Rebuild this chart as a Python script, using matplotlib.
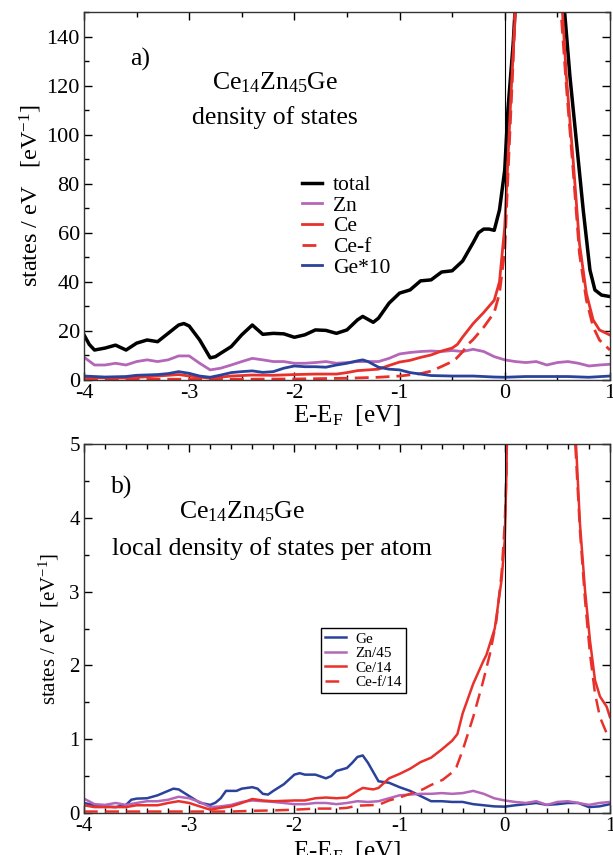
import matplotlib
matplotlib.use('Agg')
import matplotlib.pyplot as plt
from matplotlib.ticker import MultipleLocator

plt.rcParams['font.family'] = 'Liberation Serif'
plt.rcParams['mathtext.fontset'] = 'custom'
plt.rcParams['mathtext.rm'] = 'Liberation Serif'
plt.rcParams['mathtext.it'] = 'Liberation Serif:italic'
plt.rcParams['axes.unicode_minus'] = False

# colours
c_zn = '#b467b8'
c_ce = '#e8312b'
c_ge = '#2a429b'

# ---- panel a) total / partial DOS ----
e_tot = [-4.0, -3.95, -3.9, -3.8, -3.7, -3.6, -3.5, -3.4, -3.3, -3.2, -3.1, -3.05, -3.0, -2.9, -2.8, -2.75,
         -2.7, -2.6, -2.5, -2.4, -2.3, -2.2, -2.1, -2.0, -1.9, -1.8, -1.7, -1.6, -1.5, -1.4, -1.35, -1.25,
         -1.2, -1.1, -1.0, -0.9, -0.8, -0.7, -0.6, -0.5, -0.4, -0.3, -0.25, -0.2, -0.15, -0.1, -0.05,
         0.0, 0.03, 0.08, 0.1, 0.2, 0.35, 0.45, 0.55, 0.62, 0.683, 0.746, 0.81, 0.857, 0.92, 1.0]
dos_tot = [18.4, 14.5, 12.2, 13.0, 14.2, 12.2, 15.0, 16.3, 15.6, 19.0, 22.4, 23.0, 22.0, 16.3, 9.0, 9.5,
           10.9, 13.6, 18.4, 22.4, 18.6, 19.0, 18.8, 17.4, 18.4, 20.4, 20.2, 19.0, 20.4, 24.5, 25.9, 23.5,
           25.2, 31.3, 35.4, 36.7, 40.4, 40.8, 44.0, 44.5, 48.5, 56.0, 60.0, 61.5, 61.5, 61.0, 69.3,
           85.6, 110, 137, 152, 300, 380, 300, 160, 123.6, 96.5, 69.3, 44.8, 36.7, 34.6, 34.0]

e_zn = [-4.0, -3.9, -3.8, -3.7, -3.6, -3.5, -3.4, -3.3, -3.2, -3.1, -3.0, -2.9, -2.8, -2.7, -2.6, -2.5,
        -2.4, -2.3, -2.2, -2.1, -2.0, -1.9, -1.8, -1.7, -1.6, -1.5, -1.4, -1.3, -1.2, -1.1, -1.0, -0.9,
        -0.8, -0.7, -0.6, -0.5, -0.4, -0.3, -0.2, -0.1, 0.0, 0.1, 0.2, 0.3, 0.4, 0.5, 0.6, 0.7, 0.8,
        0.9, 1.0]
dos_zn = [9.3, 6.1, 6.1, 6.8, 6.1, 7.5, 8.2, 7.5, 8.2, 9.8, 9.8, 6.8, 4.1, 4.8, 6.1, 7.5,
          8.8, 8.2, 7.5, 7.5, 6.8, 6.8, 7.1, 7.5, 6.8, 7.1, 7.5, 7.5, 7.5, 8.8, 10.6, 11.2,
          11.6, 11.8, 11.6, 12.0, 11.6, 12.5, 11.6, 9.5, 8.2, 7.5, 7.1, 7.5, 6.1, 7.1, 7.5, 6.8, 5.7,
          6.1, 6.4]

e_ce = [-4.0, -3.8, -3.6, -3.4, -3.3, -3.1, -3.0, -2.8, -2.6, -2.4, -2.2, -2.0, -1.8, -1.6, -1.5, -1.4,
        -1.2, -1.1, -1.0, -0.9, -0.8, -0.7, -0.6, -0.5, -0.45, -0.4, -0.3, -0.2, -0.1, -0.05, 0.0,
        0.03, 0.06, 0.095, 0.12, 0.2, 0.35, 0.45, 0.52, 0.586, 0.65, 0.71, 0.776, 0.84, 0.9, 1.0]
dos_ce = [1.0, 0.9, 0.8, 1.3, 1.6, 2.2, 1.6, 0.7, 1.6, 2.0, 1.9, 2.2, 2.4, 2.4, 3.0, 3.8,
          4.4, 5.9, 7.3, 8.0, 9.2, 10.2, 11.8, 13.0, 14.5, 17.5, 23.0, 27.5, 32.5, 40.0, 62.5,
          89.7, 117, 145, 170, 300, 350, 300, 170, 123.6, 89.7, 55.7, 35.3, 24.5, 20.4, 18.3]

e_cef = [-4.0, -3.0, -2.5, -2.0, -1.5, -1.2, -1.0, -0.8, -0.7, -0.6, -0.5, -0.46, -0.4, -0.35, -0.3,
         -0.2, -0.1, -0.05, 0.0, 0.03, 0.08, 0.1, 0.2, 0.35, 0.45, 0.51, 0.586, 0.65, 0.71, 0.776,
         0.84, 0.9, 1.0]
dos_cef = [0.3, 0.3, 0.3, 0.4, 0.7, 1.1, 1.6, 2.6, 3.6, 5.5, 7.5, 8.8, 11.5, 14.5, 16.5,
           21.5, 27.5, 35.3, 53, 83, 130, 155, 290, 340, 290, 165, 119.6, 85.6, 51.6, 32.6,
           21.7, 16.3, 12.2]

e_ge = [-4.0, -3.8, -3.6, -3.5, -3.3, -3.2, -3.1, -3.0, -2.9, -2.8, -2.7, -2.6, -2.5, -2.4, -2.3, -2.2,
        -2.1, -2.0, -1.9, -1.8, -1.7, -1.6, -1.5, -1.4, -1.35, -1.3, -1.2, -1.1, -1.0, -0.9, -0.8,
        -0.7, -0.5, -0.3, -0.1, 0.0, 0.2, 0.4, 0.6, 0.8, 1.0]
dos_ge10 = [1.6, 1.2, 1.4, 1.9, 2.2, 2.6, 3.4, 2.7, 1.6, 1.1, 2.0, 3.0, 3.4, 3.7, 3.1, 3.4,
            4.8, 5.7, 5.4, 5.4, 5.2, 6.1, 6.8, 7.8, 8.2, 7.5, 5.2, 4.4, 4.1, 3.0, 2.4,
            1.8, 1.6, 1.6, 1.2, 1.1, 1.4, 1.4, 1.4, 1.1, 1.6]

# ---- panel b) local DOS per atom ----
e_lge = [-4.0, -3.9, -3.8, -3.7, -3.6, -3.55, -3.5, -3.4, -3.3, -3.2, -3.15, -3.1, -3.0, -2.9, -2.8,
         -2.75, -2.7, -2.65, -2.6, -2.55, -2.5, -2.4, -2.35, -2.3, -2.25, -2.2, -2.1, -2.0, -1.95, -1.9,
         -1.8, -1.7, -1.65, -1.6, -1.5, -1.45, -1.4, -1.35, -1.3, -1.2, -1.1, -1.0, -0.9, -0.8, -0.7,
         -0.6, -0.5, -0.4, -0.3, -0.2, -0.1, 0.0, 0.1, 0.2, 0.3, 0.4, 0.5, 0.6, 0.7, 0.8, 0.9, 1.0]
ldos_ge = [0.136, 0.105, 0.09, 0.08, 0.11, 0.18, 0.195, 0.2, 0.24, 0.3, 0.33, 0.32, 0.23, 0.14, 0.11,
           0.14, 0.2, 0.3, 0.3, 0.3, 0.33, 0.35, 0.33, 0.26, 0.25, 0.3, 0.39, 0.52, 0.54, 0.52,
           0.52, 0.47, 0.5, 0.57, 0.61, 0.68, 0.76, 0.78, 0.68, 0.43, 0.41, 0.35, 0.30, 0.23, 0.16,
           0.16, 0.15, 0.15, 0.12, 0.105, 0.09, 0.086, 0.105, 0.12, 0.136, 0.11, 0.12, 0.136, 0.136,
           0.08, 0.09, 0.12]

e_lzn = [-4.0, -3.9, -3.8, -3.7, -3.6, -3.5, -3.4, -3.3, -3.2, -3.1, -3.0, -2.9, -2.8, -2.7, -2.6, -2.5,
         -2.4, -2.3, -2.2, -2.1, -2.0, -1.9, -1.8, -1.7, -1.6, -1.5, -1.4, -1.3, -1.2, -1.1, -1.0, -0.9,
         -0.8, -0.7, -0.6, -0.5, -0.4, -0.3, -0.2, -0.1, 0.0, 0.1, 0.2, 0.3, 0.4, 0.5, 0.6, 0.7, 0.8,
         0.9, 1.0]
ldos_zn = [0.195, 0.12, 0.11, 0.136, 0.11, 0.136, 0.16, 0.16, 0.18, 0.22, 0.2, 0.15, 0.08, 0.09, 0.11,
           0.15, 0.17, 0.16, 0.15, 0.136, 0.12, 0.12, 0.136, 0.136, 0.12, 0.136, 0.16, 0.15, 0.16, 0.2,
           0.24, 0.25, 0.26, 0.26, 0.27, 0.26, 0.27, 0.3, 0.26, 0.2, 0.17, 0.15, 0.136, 0.16, 0.11,
           0.15, 0.16, 0.136, 0.11, 0.136, 0.15]

e_lce = [-4.0, -3.9, -3.8, -3.6, -3.5, -3.3, -3.2, -3.1, -3.0, -2.9, -2.8, -2.7, -2.6, -2.5, -2.4, -2.3,
         -2.2, -2.0, -1.9, -1.8, -1.7, -1.6, -1.5, -1.4, -1.35, -1.25, -1.2, -1.1, -1.0, -0.9, -0.8,
         -0.7, -0.6, -0.5, -0.45, -0.4, -0.3, -0.2, -0.175, -0.095, -0.03, 0.0, 0.016, 0.05, 0.35,
         0.5, 0.66, 0.715, 0.763, 0.81, 0.858, 0.905, 0.969, 1.0]
ldos_ce = [0.105, 0.08, 0.08, 0.08, 0.105, 0.105, 0.136, 0.16, 0.136, 0.09, 0.045, 0.07, 0.09, 0.136,
           0.19, 0.17, 0.16, 0.17, 0.17, 0.2, 0.21, 0.2, 0.21, 0.3, 0.34, 0.32, 0.34, 0.47, 0.53, 0.6,
           0.69, 0.75, 0.86, 0.98, 1.07, 1.35, 1.75, 2.07, 2.14, 2.5, 3.16, 3.7, 4.6, 8.0, 15.0,
           12.0, 5.5, 3.92, 3.02, 2.34, 1.8, 1.58, 1.44, 1.3]

e_lcef = [-4.0, -3.0, -2.6, -2.4, -2.2, -2.0, -1.8, -1.6, -1.5, -1.4, -1.2, -1.1, -1.0, -0.9, -0.78,
          -0.7, -0.59, -0.5, -0.46, -0.4, -0.3, -0.21, -0.14, -0.08, -0.03, 0.0, 0.016, 0.05, 0.35,
          0.5, 0.655, 0.715, 0.763, 0.81, 0.858, 0.905, 0.969, 1.0]
ldos_cef = [0.02, 0.02, 0.02, 0.03, 0.035, 0.045, 0.06, 0.06, 0.07, 0.1, 0.11, 0.17, 0.21, 0.26, 0.32,
            0.38, 0.45, 0.55, 0.62, 0.85, 1.3, 1.76, 2.16, 2.6, 3.25, 3.92, 4.6, 8.0, 14.0,
            11.0, 5.4, 3.83, 2.89, 2.16, 1.62, 1.3, 1.08, 1.01]

fig = plt.figure(figsize=(6.13, 8.55), dpi=100)
ax1 = fig.add_axes([0.137, 0.5556, 0.858, 0.4304])
ax2 = fig.add_axes([0.137, 0.0491, 0.858, 0.4316])

ax1.plot(e_tot, dos_tot, color='black', lw=2.5, label='total')
ax1.plot(e_zn, dos_zn, color=c_zn, lw=2.0, label='Zn')
ax1.plot(e_ce, dos_ce, color=c_ce, lw=2.0, label='Ce')
ax1.plot(e_cef, dos_cef, color=c_ce, lw=2.0, dashes=(5, 2.5), label='Ce-f')
ax1.plot(e_ge, dos_ge10, color=c_ge, lw=2.0, label='Ge*10')
ax1.axvline(0, color='black', lw=0.8)

ax2.plot(e_lge, ldos_ge, color=c_ge, lw=1.8, label='Ge')
ax2.plot(e_lzn, ldos_zn, color=c_zn, lw=1.8, label='Zn/45')
ax2.plot(e_lce, ldos_ce, color=c_ce, lw=1.8, label='Ce/14')
ax2.plot(e_lcef, ldos_cef, color=c_ce, lw=1.8, dashes=(5.5, 3), label='Ce-f/14')
ax2.axvline(0, color='black', lw=0.8)

ax1.set_xlim(-4, 1)
ax1.set_ylim(0, 150)
ax1.xaxis.set_major_locator(MultipleLocator(1))
ax1.xaxis.set_minor_locator(MultipleLocator(0.5))
ax1.yaxis.set_major_locator(MultipleLocator(20))
ax1.yaxis.set_minor_locator(MultipleLocator(10))

ax2.set_xlim(-4, 1)
ax2.set_ylim(0, 5)
ax2.xaxis.set_major_locator(MultipleLocator(1))
ax2.xaxis.set_minor_locator(MultipleLocator(0.2))
ax2.yaxis.set_major_locator(MultipleLocator(1))
ax2.yaxis.set_minor_locator(MultipleLocator(0.5))

for ax, fs in ((ax1, 16), (ax2, 15)):
    ax.tick_params(which='both', direction='in', top=True, right=True, labelsize=fs, pad=3)
    ax.tick_params(which='major', length=6, width=1)
    ax.tick_params(which='minor', length=3.5, width=1)
    for s in ax.spines.values():
        s.set_linewidth(1.0)
        s.set_color('#333333')

ax1.set_xlabel('E-E$_\\mathrm{F}$  [eV]', fontsize=18, labelpad=0)
ax1.set_ylabel('states / eV   [eV$^{-1}$]', fontsize=17.5, labelpad=2)
ax2.set_xlabel('E-E$_\\mathrm{F}$  [eV]', fontsize=18, labelpad=2)
ax2.set_ylabel('states / eV  [eV$^{-1}$]', fontsize=15, labelpad=6)

ax1.text(0.106, 0.87, 'a)', transform=ax1.transAxes, fontsize=18.5, ha='center', va='center')
ax1.text(0.363, 0.807, 'Ce$_{14}$Zn$_{45}$Ge', transform=ax1.transAxes, fontsize=18.5,
         ha='center', va='center')
ax1.text(0.363, 0.712, 'density of states', transform=ax1.transAxes, fontsize=18.5,
         ha='center', va='center')

ax2.text(0.072, 0.881, 'b)', transform=ax2.transAxes, fontsize=18.5, ha='center', va='center')
ax2.text(0.30, 0.816, 'Ce$_{14}$Zn$_{45}$Ge', transform=ax2.transAxes, fontsize=18.5,
         ha='center', va='center')
ax2.text(0.358, 0.718, 'local density of states per atom', transform=ax2.transAxes, fontsize=18.5,
         ha='center', va='center')

ax1.legend(loc='upper left', bbox_to_anchor=(0.414, 0.557), frameon=False, fontsize=15.5,
           handlelength=0.95, handletextpad=0.5, labelspacing=0.03, borderpad=0, borderaxespad=0)
leg2 = ax2.legend(loc='upper left', bbox_to_anchor=(0.451, 0.501), fontsize=11, fancybox=False,
                  edgecolor='black', framealpha=1, handlelength=1.4, handletextpad=0.6,
                  labelspacing=0.05, borderpad=0.25, borderaxespad=0)
leg2.get_frame().set_linewidth(1.0)

fig.savefig('out.png', dpi=100)
